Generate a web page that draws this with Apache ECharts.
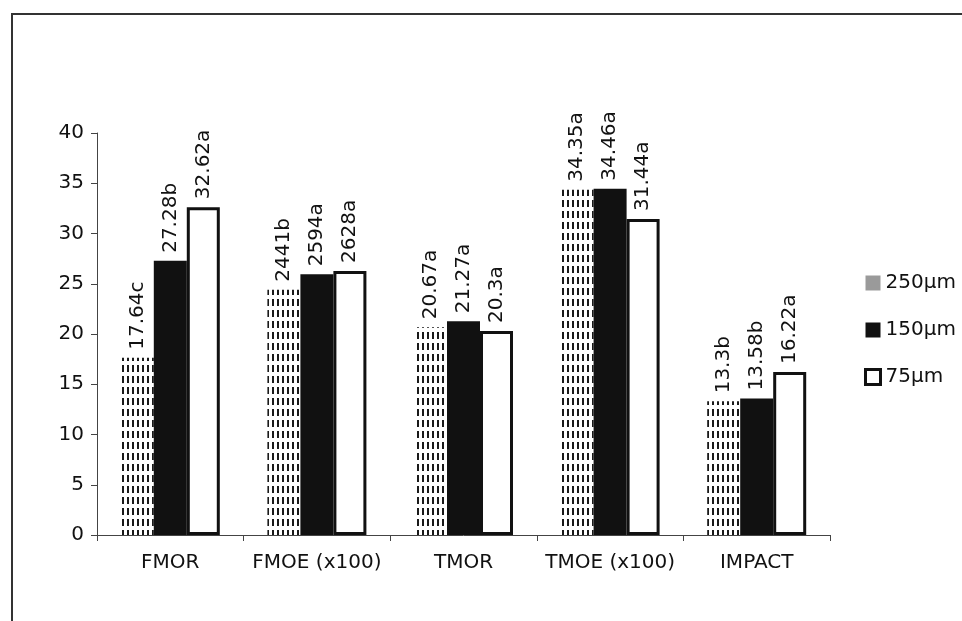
<!DOCTYPE html>
<html>
<head>
<meta charset="utf-8">
<script src="https://cdn.jsdelivr.net/npm/echarts@6/dist/echarts.min.js"></script>
<style>
  html, body { margin: 0; padding: 0; background: #fff; }
  #chart { width: 962px; height: 621px; }
</style>
</head>
<body>
<div id="chart"></div>
<script>
// Mechanical properties by particle size
const categories = ['FMOR', 'FMOE (x100)', 'TMOR', 'TMOE (x100)', 'IMPACT'];
const sizes = ['250µm', '150µm', '75µm'];

const values250 = [17.64, 24.41, 20.67, 34.35, 13.3];
const values150 = [27.28, 25.94, 21.27, 34.46, 13.58];
const values75  = [32.62, 26.28, 20.3, 31.44, 16.22];

const labels250 = ['17.64c', '2441b', '20.67a', '34.35a', '13.3b'];
const labels150 = ['27.28b', '2594a', '21.27a', '34.46a', '13.58b'];
const labels75  = ['32.62a', '2628a', '20.3a', '31.44a', '16.22a'];

const yTicks = { min: 0, max: 40, interval: 5 };

const FONT = '"DejaVu Sans", sans-serif';
const FS = 20;

// vertical dash fill used for the coarse particle bars
function dashPattern() {
  const c = document.createElement('canvas');
  c.width = 5; c.height = 11;
  const ctx = c.getContext('2d');
  ctx.fillStyle = '#fff';
  ctx.fillRect(0, 0, 5, 11);
  ctx.fillStyle = '#1a1a1a';
  ctx.fillRect(2, 2, 2, 7);
  return c;
}

const chart = echarts.init(document.getElementById('chart'), null, { renderer: 'canvas' });

function labelCfg(texts) {
  return {
    show: true,
    position: 'top',
    distance: 8,
    rotate: 90,
    align: 'left',
    verticalAlign: 'middle',
    fontFamily: FONT,
    fontSize: FS,
    color: '#111',
    formatter: p => texts[p.dataIndex]
  };
}

chart.setOption({
  animation: false,
  backgroundColor: '#fff',
  graphic: [{
    type: 'rect',
    shape: { x: 12, y: 14, width: 980, height: 640 },
    style: { fill: 'none', stroke: '#333', lineWidth: 2 },
    silent: true
  }],
  grid: { left: 97, right: 132, top: 133, bottom: 86 },
  legend: {
    orient: 'vertical',
    left: 859,
    top: 268,
    itemWidth: 15,
    itemHeight: 15,
    itemGap: 27,
    icon: 'rect',
    textStyle: { fontFamily: FONT, fontSize: FS, color: '#111' },
    data: [
      { name: sizes[0], itemStyle: { color: '#9a9a9a', borderWidth: 0 } },
      { name: sizes[1], itemStyle: { color: '#111', borderColor: '#111', borderWidth: 0 } },
      { name: sizes[2], itemStyle: { color: '#fff', borderColor: '#111', borderWidth: 3 } }
    ]
  },
  xAxis: {
    type: 'category',
    data: categories,
    axisLine: { lineStyle: { color: '#444', width: 1 } },
    axisTick: { show: true, length: 6, lineStyle: { color: '#444' } },
    axisLabel: { interval: 0, fontFamily: FONT, fontSize: FS, color: '#111', margin: 18 }
  },
  yAxis: {
    type: 'value',
    min: yTicks.min,
    max: yTicks.max,
    interval: yTicks.interval,
    splitLine: { show: false },
    axisLine: { show: true, lineStyle: { color: '#444', width: 1 } },
    axisTick: { show: true, length: 6, lineStyle: { color: '#444' } },
    axisLabel: { fontFamily: FONT, fontSize: FS, color: '#111', margin: 13 }
  },
  series: [
    {
      name: sizes[0], type: 'bar', data: values250,
      barWidth: 33, barGap: '0%',
      itemStyle: { color: { image: dashPattern(), repeat: 'repeat' } },
      label: labelCfg(labels250)
    },
    {
      name: sizes[1], type: 'bar', data: values150,
      barWidth: 33, barGap: '0%',
      itemStyle: { color: '#111', borderColor: '#111', borderWidth: 0 },
      label: labelCfg(labels150)
    },
    {
      name: sizes[2], type: 'bar', data: values75,
      barWidth: 33, barGap: '0%',
      itemStyle: { color: '#fff', borderColor: '#111', borderWidth: 3 },
      label: labelCfg(labels75)
    }
  ]
});
</script>
</body>
</html>
